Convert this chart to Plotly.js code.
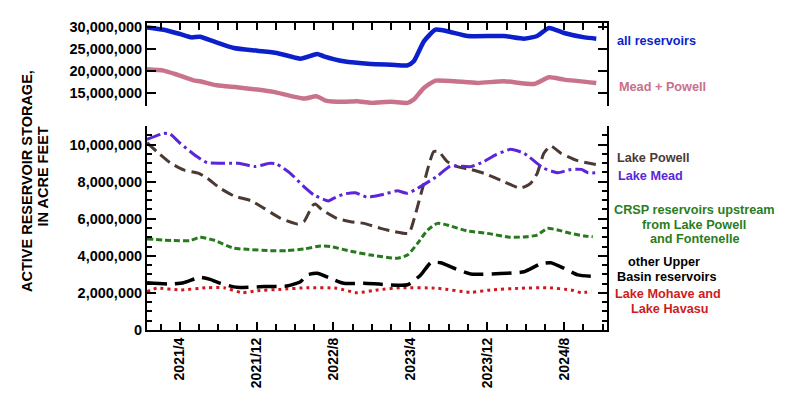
<!DOCTYPE html>
<html>
<head>
<meta charset="utf-8">
<script src="https://cdn.plot.ly/plotly-3.0.1.min.js"></script>
<style>
  html, body { margin: 0; padding: 0; background: #fff; }
  #chart { width: 800px; height: 411px; }
</style>
</head>
<body>
<div id="chart"></div>
<script>
// active storage, acre-feet
var allDates = ["2020-12-19","2021-02-10","2021-04-03","2021-05-09","2021-06-05","2021-07-18","2021-09-20","2021-12-03","2022-02-03","2022-04-19","2022-06-11","2022-07-02","2022-09-03","2022-11-28","2023-01-31","2023-03-24","2023-04-13","2023-05-15","2023-06-21","2023-08-07","2023-09-30","2024-01-24","2024-03-27","2024-05-08","2024-06-14","2024-08-01","2024-10-05","2024-11-11"];
var allVals = [30.0e6,29.47e6,28.49e6,27.71e6,27.87e6,26.8e6,25.29e6,24.67e6,24.15e6,22.84e6,23.92e6,23.37e6,22.23e6,21.63e6,21.47e6,21.31e6,22.23e6,26.8e6,29.47e6,28.95e6,28.03e6,28.03e6,27.42e6,28.03e6,29.86e6,28.72e6,27.71e6,27.42e6];

var meadPowellDates = ["2020-12-19","2021-02-10","2021-03-24","2021-05-15","2021-06-05","2021-07-28","2021-09-30","2021-12-03","2022-01-24","2022-04-30","2022-06-06","2022-06-17","2022-07-08","2022-09-03","2022-10-15","2022-11-28","2023-01-31","2023-03-24","2023-04-13","2023-05-15","2023-06-21","2023-08-19","2023-11-01","2024-01-24","2024-04-29","2024-06-14","2024-08-01","2024-11-11"];
var meadPowellVals = [20.4e6,20.1e6,19.19e6,17.88e6,17.66e6,16.74e6,16.28e6,15.76e6,15.23e6,13.7e6,14.23e6,14.0e6,13.24e6,12.95e6,13.08e6,12.72e6,12.95e6,12.72e6,13.47e6,16.14e6,17.81e6,17.66e6,17.29e6,17.66e6,17.06e6,18.57e6,18.04e6,17.29e6];

var powellDates = ["2020-12-19","2021-01-19","2021-03-02","2021-04-14","2021-06-01","2021-06-28","2021-08-08","2021-09-20","2021-11-13","2021-12-25","2022-02-15","2022-04-08","2022-04-30","2022-05-27","2022-06-05","2022-06-25","2022-08-12","2022-09-25","2022-11-06","2022-12-29","2023-01-19","2023-03-28","2023-04-13","2023-05-15","2023-06-15","2023-07-01","2023-07-28","2023-08-29","2023-10-10","2023-11-21","2024-01-24","2024-03-16","2024-04-17","2024-05-08","2024-05-29","2024-06-20","2024-07-22","2024-09-13","2024-11-16"];
var powellVals = [10.1e6,9.62e6,9.02e6,8.63e6,8.45e6,8.18e6,7.64e6,7.23e6,6.97e6,6.56e6,6.02e6,5.72e6,5.84e6,6.7e6,6.8e6,6.5e6,6.02e6,5.84e6,5.75e6,5.48e6,5.39e6,5.21e6,5.93e6,7.91e6,9.62e6,9.62e6,9.08e6,8.81e6,8.66e6,8.45e6,8.0e6,7.64e6,7.91e6,8.45e6,9.53e6,9.92e6,9.53e6,9.13e6,8.9e6];

var meadDates = ["2020-12-19","2021-02-10","2021-03-02","2021-04-03","2021-05-26","2021-06-28","2021-10-06","2021-11-24","2022-01-13","2022-02-03","2022-03-18","2022-04-30","2022-06-01","2022-07-16","2022-08-02","2022-09-03","2022-10-10","2022-11-16","2022-12-29","2023-01-19","2023-02-20","2023-03-24","2023-04-25","2023-06-27","2023-08-07","2023-10-10","2023-11-21","2023-12-28","2024-02-13","2024-03-27","2024-05-29","2024-07-12","2024-08-23","2024-09-25","2024-10-16","2024-11-16"];
var meadVals = [10.28e6,10.6e6,10.57e6,10.07e6,9.35e6,9.02e6,8.99e6,8.81e6,8.99e6,8.95e6,8.45e6,7.73e6,7.28e6,6.96e6,7.1e6,7.33e6,7.4e6,7.16e6,7.28e6,7.37e6,7.51e6,7.37e6,7.64e6,8.3e6,8.84e6,8.81e6,9.08e6,9.44e6,9.74e6,9.53e6,8.72e6,8.48e6,8.66e6,8.66e6,8.48e6,8.48e6];

var crspDates = ["2020-12-19","2021-03-13","2021-05-04","2021-06-05","2021-07-18","2021-09-20","2021-11-01","2022-01-13","2022-03-07","2022-04-30","2022-06-22","2022-07-23","2022-09-25","2022-11-28","2023-02-20","2023-03-24","2023-04-25","2023-05-27","2023-06-27","2023-07-28","2023-09-30","2023-12-02","2024-02-13","2024-04-06","2024-05-08","2024-06-09","2024-07-12","2024-08-23","2024-10-05","2024-10-31"];
var crspVals = [4.91e6,4.82e6,4.82e6,5.0e6,4.85e6,4.41e6,4.35e6,4.28e6,4.28e6,4.37e6,4.53e6,4.5e6,4.25e6,4.04e6,3.87e6,4.04e6,4.67e6,5.39e6,5.75e6,5.66e6,5.34e6,5.21e6,5.0e6,5.03e6,5.12e6,5.48e6,5.39e6,5.21e6,5.07e6,5.03e6];

var upperDates = ["2020-12-19","2021-03-02","2021-04-14","2021-06-05","2021-07-07","2021-08-08","2021-09-30","2021-12-25","2022-03-07","2022-04-19","2022-05-10","2022-06-11","2022-07-23","2022-09-03","2022-11-06","2023-03-24","2023-05-05","2023-06-06","2023-07-07","2023-08-19","2023-10-10","2024-02-03","2024-03-27","2024-05-18","2024-06-20","2024-08-01","2024-09-13","2024-11-16"];
var upperVals = [2.55e6,2.48e6,2.55e6,2.84e6,2.73e6,2.52e6,2.3e6,2.34e6,2.37e6,2.6e6,2.97e6,3.06e6,2.79e6,2.52e6,2.52e6,2.44e6,2.97e6,3.63e6,3.63e6,3.33e6,3.02e6,3.06e6,3.14e6,3.56e6,3.63e6,3.33e6,2.97e6,2.87e6];

var lowerDates = ["2020-12-19","2021-01-19","2021-04-03","2021-06-28","2021-08-20","2021-10-17","2021-12-03","2022-02-15","2022-05-10","2022-08-12","2022-10-15","2022-12-19","2023-03-02","2023-06-27","2023-10-10","2023-12-12","2024-03-16","2024-06-09","2024-08-23","2024-09-25","2024-10-27"];
var lowerVals = [2.07e6,2.25e6,2.16e6,2.28e6,2.28e6,2.01e6,2.12e6,2.19e6,2.28e6,2.25e6,2.01e6,2.16e6,2.28e6,2.25e6,2.03e6,2.16e6,2.25e6,2.28e6,2.16e6,2.01e6,2.1e6];

var FONT = "Liberation Sans, Arial, sans-serif";

function series(x, y, color, width, dash, yaxis) {
  return {
    type: "scatter", mode: "lines", x: x, y: y,
    xaxis: yaxis === "y2" ? "x2" : "x", yaxis: yaxis,
    line: { color: color, width: width, dash: dash, shape: "spline", smoothing: 0.5 },
    hoverinfo: "skip"
  };
}

var data = [
  series(allDates, allVals, "#0b1fcb", 4.5, "solid", "y2"),
  series(meadPowellDates, meadPowellVals, "#c8738b", 4.5, "solid", "y2"),
  series(lowerDates, lowerVals, "#d2161b", 3, "3px,4px", "y"),
  series(upperDates, upperVals, "#000000", 3.5, "20px,8px", "y"),
  series(crspDates, crspVals, "#267a1c", 3, "6px,3px", "y"),
  series(powellDates, powellVals, "#4b3a33", 3, "12px,6px", "y"),
  series(meadDates, meadVals, "#5b25d9", 3, "14px,4px,3px,4px", "y")
];

// pixel helpers for the side labels
function px(x) { return (x - 147) / 460; }
function py(y) { return (330 - y) / 307; }

function label(text, x, y, color, anchor) {
  return {
    text: text, xref: "paper", yref: "paper", x: px(x), y: py(y),
    xanchor: anchor || "left", yanchor: "middle", showarrow: false,
    font: { family: FONT, size: 12.7, color: color, weight: "bold" }
  };
}

var annotations = [
  label("all reservoirs", 615, 41, "#0b1fcb"),
  label("Mead + Powell", 617, 87, "#c8708a"),
  label("Lake Powell", 615, 158, "#4b3a33"),
  label("Lake Mead", 616, 176, "#5b25d9"),
  label("CRSP reservoirs upstream", 694, 210, "#2a7d1e", "center"),
  label("from Lake Powell", 694, 224.5, "#2a7d1e", "center"),
  label("and Fontenelle", 695, 239, "#2a7d1e", "center"),
  label("other Upper", 664, 262, "#000000", "center"),
  label("Basin reservoirs", 666, 277, "#000000", "center"),
  label("Lake Mohave and", 668, 294, "#d01c1c", "center"),
  label("Lake Havasu", 670, 309, "#d01c1c", "center"),
  {
    text: "ACTIVE RESERVOIR STORAGE,", xref: "paper", yref: "paper",
    x: px(27), y: py(181), xanchor: "center", yanchor: "middle", textangle: -90,
    showarrow: false, font: { family: FONT, size: 14.5, color: "#000", weight: "bold" }
  },
  {
    text: "IN ACRE FEET", xref: "paper", yref: "paper",
    x: px(42.5), y: py(177), xanchor: "center", yanchor: "middle", textangle: -90,
    showarrow: false, font: { family: FONT, size: 14.5, color: "#000", weight: "bold" }
  }
];

var tickFont = { family: FONT, size: 14.5, color: "#000", weight: "bold" };
var xRange = ["2020-12-19", "2024-12-15"];

var layout = {
  width: 800, height: 411,
  margin: { l: 147, r: 193, t: 23, b: 81 },
  paper_bgcolor: "#fff", plot_bgcolor: "#fff",
  showlegend: false,
  font: { family: FONT, color: "#000" },
  xaxis: {
    type: "date", range: xRange, anchor: "y",
    showgrid: false, zeroline: false,
    showline: true, linecolor: "#000", linewidth: 2,
    ticks: "inside", ticklen: 8, tickwidth: 2, tickcolor: "#000",
    tick0: "2021-04-01", dtick: "M8", tickformat: "%Y/%-m",
    tickangle: -90, tickfont: { family: FONT, size: 14, color: "#000", weight: "bold" },
    minor: { dtick: "M2", tick0: "2021-04-01", ticks: "inside", ticklen: 6, tickwidth: 2, tickcolor: "#000", showgrid: false }
  },
  xaxis2: {
    type: "date", range: xRange, anchor: "y2", side: "top", matches: "x",
    showgrid: false, zeroline: false, showticklabels: false,
    showline: true, linecolor: "#000", linewidth: 2,
    ticks: "inside", ticklen: 7, tickwidth: 2, tickcolor: "#000",
    tick0: "2021-04-01", dtick: "M2"
  },
  yaxis: {
    domain: [0, 0.6645], range: [0, 11e6], anchor: "x",
    showgrid: false, zeroline: false,
    showline: true, linecolor: "#000", linewidth: 2, mirror: "ticks",
    ticks: "inside", ticklen: 9, tickwidth: 2, tickcolor: "#000",
    tick0: 0, dtick: 2e6, tickformat: ",d", tickfont: tickFont,
    minor: { dtick: 5e5, ticks: "inside", ticklen: 5, tickwidth: 2, tickcolor: "#000", showgrid: false }
  },
  yaxis2: {
    domain: [0.7296, 1], range: [12e6, 31e6], anchor: "x2",
    showgrid: false, zeroline: false,
    showline: true, linecolor: "#000", linewidth: 2, mirror: "ticks",
    ticks: "inside", ticklen: 9, tickwidth: 2, tickcolor: "#000",
    tick0: 0, dtick: 5e6, tickformat: ",d", tickfont: tickFont
  },
  annotations: annotations
};

Plotly.newPlot("chart", data, layout, { staticPlot: true, displayModeBar: false });
</script>
</body>
</html>
